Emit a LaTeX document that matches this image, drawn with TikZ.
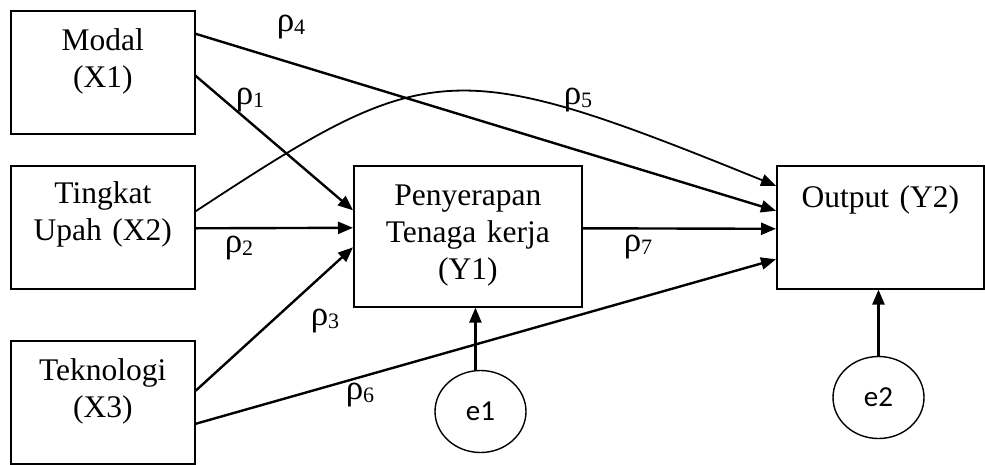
\documentclass[tikz,border=0pt]{standalone}
\usepackage{fontspec}
\setmainfont{Liberation Serif}
\newfontfamily\errfont{Carlito}
\usepackage{tikz}
\usetikzlibrary{arrows.meta, shapes.geometric, positioning, calc}

\newcommand{\coef}[1]{ρ\raisebox{-3pt}{\fontsize{22}{22}\selectfont #1}}

\begin{document}
\begin{tikzpicture}[x=1pt, y=-1pt,
  every node/.style={font=\fontsize{31.5}{37}\selectfont},
  varbox/.style={rectangle, draw=black, line width=1.6pt, inner sep=0pt,
                 anchor=north west, align=center},
  errnode/.style={ellipse, draw=black, line width=1.4pt, inner sep=0pt,
                  minimum width=91pt, minimum height=82pt,
                  font=\errfont\fontsize{29}{34}\selectfont},
  coeflabel/.style={inner sep=0pt, font=\fontsize{35}{36}\selectfont},
  arr/.style={-{Triangle[length=15pt, width=12pt]}, line width=2.4pt, black},
  carr/.style={-{Triangle[length=15pt, width=12pt]}, line width=1.8pt, black}
]
  \useasboundingbox (0,0) rectangle (985,464);

  % ── Exogenous variables ──────────────────────────────────────
  \node[varbox, text width=184pt, text height=40pt, text depth=83pt] (x1) at (10,10)
        {Modal\\(X1)};
  \node[varbox, text width=184pt, text height=38pt, text depth=85pt] (x2) at (10,165)
        {Tingkat\\Upah (X2)};
  \node[varbox, text width=184pt, text height=40pt, text depth=83pt] (x3) at (10,340)
        {Teknologi\\(X3)};

  % ── Endogenous variables ─────────────────────────────────────
  \node[varbox, text width=228pt, text height=40pt, text depth=101pt] (y1) at (353,165)
        {Penyerapan\\Tenaga kerja\\(Y1)};
  \node[varbox, text width=207pt, text height=42pt, text depth=81pt] (y2) at (776,165)
        {Output (Y2)};

  % ── Error terms ──────────────────────────────────────────────
  \node[errnode] (e1) at (480.5,411.5) {e1};
  \node[errnode] (e2) at (878.5,397.5) {e2};

  % ── Paths into Y1 ────────────────────────────────────────────
  \draw[arr] ([yshift=-3.5pt]x1.east) -- ([yshift=26pt]y1.west);
  \draw[arr] ([yshift=-1pt]x2.east) -- ([yshift=8.5pt]y1.west);
  \draw[arr] ([yshift=11.5pt]x3.east) -- ([yshift=-11pt]y1.west);

  % ── Paths into Y2 ────────────────────────────────────────────
  \draw[arr] ([yshift=38.5pt]x1.east) -- ([yshift=16.5pt]y2.west);
  \draw[carr] ([yshift=16pt]x2.east)
        .. controls (429,58) and (451,54) .. ([yshift=41.5pt]y2.west);
  \draw[arr] ([yshift=-21.5pt]x3.east) -- ([yshift=-32pt]y2.west);
  \draw[arr] ([yshift=8pt]y1.east) -- ([yshift=-1.5pt]y2.west);

  % ── Error arrows ─────────────────────────────────────────────
  \draw[arr] (e1.97) -- (e1.97 |- y1.south);
  \draw[arr] (e2.north) -- (e2.north |- y2.south);

  % ── Coefficient labels ───────────────────────────────────────
  \node[coeflabel] (r1) at (250,100) {\coef{1}};
  \node[coeflabel] (r2) at (239,248) {\coef{2}};
  \node[coeflabel] (r3) at (325,321) {\coef{3}};
  \node[coeflabel] (r4) at (291,27)  {\coef{4}};
  \node[coeflabel] (r5) at (578,100) {\coef{5}};
  \node[coeflabel] (r6) at (360,395) {\coef{6}};
  \node[coeflabel] (r7) at (638,247) {\coef{7}};

\end{tikzpicture}
\end{document}
